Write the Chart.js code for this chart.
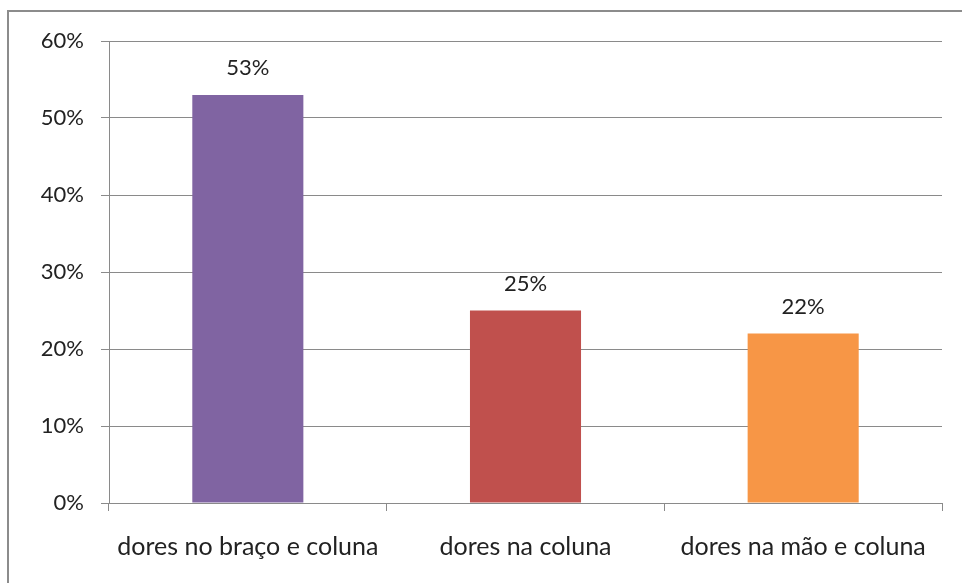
<!DOCTYPE html>
<html>
<head>
<meta charset="utf-8">
<script src="https://cdn.jsdelivr.net/npm/chart.js@4/dist/chart.umd.min.js"></script>
<style>
  html, body { margin: 0; padding: 0; background: #fff; }
  #wrap { position: relative; width: 962px; height: 583px; overflow: hidden; }
  #frame { position: absolute; left: 7px; top: 10px; width: 1000px; height: 1000px;
           border-left: 2px solid #8c8c8c; border-top: 2px solid #8c8c8c; pointer-events: none; }
</style>
</head>
<body>
<div id="wrap">
  <canvas id="chart" width="962" height="583"></canvas>
  <div id="frame"></div>
</div>
<script>
const categories = ["dores no braço e coluna", "dores na coluna", "dores na mão e coluna"];
const values = [53, 25, 22];
const barColors = ["#8064A2", "#C0504D", "#F79646"];
const yTicks = [0, 10, 20, 30, 40, 50, 60];

const FONT = "Lato, 'Open Sans', sans-serif";

// labels above each bar
const topLabels = {
  id: "topLabels",
  afterDatasetsDraw(chart) {
    const ctx = chart.ctx;
    const meta = chart.getDatasetMeta(0);
    ctx.save();
    ctx.font = "22px " + FONT;
    ctx.fillStyle = "#222";
    ctx.textAlign = "center";
    ctx.textBaseline = "bottom";
    meta.data.forEach((bar, i) => {
      ctx.fillText(values[i] + "%", bar.x, bar.y - 16);
    });
    ctx.restore();
  }
};

new Chart(document.getElementById("chart").getContext("2d"), {
  type: "bar",
  data: {
    labels: categories,
    datasets: [{
      data: values,
      backgroundColor: barColors,
      borderWidth: 0,
      barPercentage: 0.4,
      categoryPercentage: 1.0
    }]
  },
  options: {
    responsive: false,
    animation: false,
    layout: { padding: { top: 41, right: 20, left: 0, bottom: 0 } },
    plugins: { legend: { display: false }, tooltip: { enabled: false } },
    scales: {
      x: {
        offset: true,
        grid: { offset: true, drawOnChartArea: false, color: "#8a8a8a", tickLength: 8 },
        border: { color: "#8a8a8a", width: 1 },
        ticks: { font: { family: FONT, size: 25 }, color: "#222", padding: 21, maxRotation: 0 },
        afterFit(scale) { scale.height = 80; }
      },
      y: {
        min: 0,
        max: 60,
        afterBuildTicks(scale) { scale.ticks = yTicks.map(v => ({ value: v })); },
        grid: { color: "#8a8a8a", tickLength: 8 },
        border: { color: "#8a8a8a", width: 1 },
        ticks: {
          font: { family: FONT, size: 22 },
          color: "#222",
          padding: 17,
          callback: v => v + "%"
        },
        afterFit(scale) { scale.width = 109; }
      }
    }
  },
  plugins: [topLabels]
});
</script>
</body>
</html>
